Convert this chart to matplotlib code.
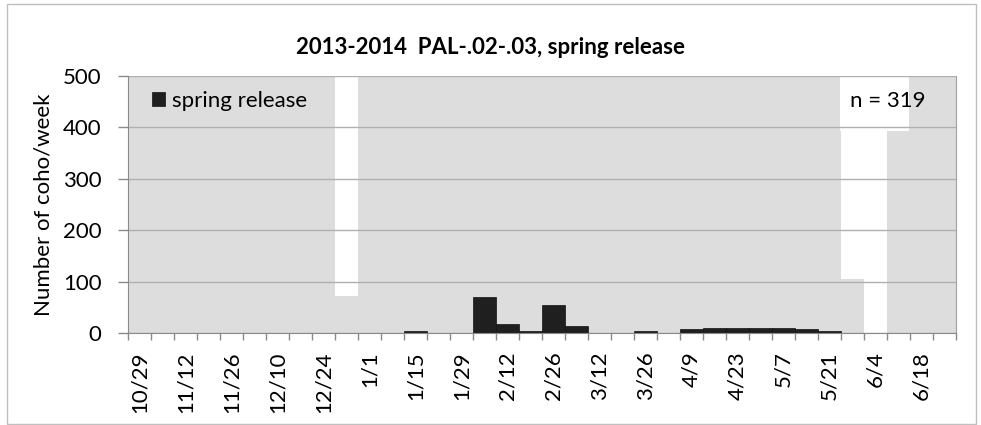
import matplotlib
matplotlib.use("Agg")
import matplotlib.pyplot as plt
from matplotlib.patches import Rectangle
import numpy as np

plt.rcParams['font.family'] = ['Lato', 'DejaVu Sans']

weeks = ["10/29", "11/5", "11/12", "11/19", "11/26", "12/3", "12/10", "12/17",
         "12/24", "12/31", "1/1", "1/8", "1/15", "1/22", "1/29", "2/5", "2/12",
         "2/19", "2/26", "3/5", "3/12", "3/19", "3/26", "4/2", "4/9", "4/16",
         "4/23", "4/30", "5/7", "5/14", "5/21", "5/28", "6/4", "6/11", "6/18", "6/25"]
spring_release = [0, 0, 0, 0, 0, 0, 0, 0, 0, 0, 0, 0, 4, 0, 0, 70, 18, 4, 54, 14,
                  0, 0, 4, 0, 8, 10, 10, 10, 10, 8, 4, 0, 0, 0, 0, 0]
sampled_bg = [500, 500, 500, 500, 500, 500, 500, 500, 500, 73, 500, 500, 500, 500,
              500, 500, 500, 500, 500, 500, 500, 500, 500, 500, 500, 500, 500, 500,
              500, 500, 500, 105, 0, 500, 500, 500]
yticks = [0, 100, 200, 300, 400, 500]
title = "2013-2014  PAL-.02-.03, spring release"
n_label = "n = 319"

FS = 16

fig = plt.figure(figsize=(9.81, 4.25), dpi=100)
ax = fig.add_axes([128/981, 1 - 333.3/425, (956-128)/981, (333.3-75.7)/425])

x = np.arange(len(weeks))
ax.bar(x, sampled_bg, width=1.0, color="#dddddd", zorder=1, linewidth=0)
ax.bar(x, spring_release, width=1.0, color="#1f1f1f", edgecolor="#111111",
       linewidth=0.5, zorder=3, label="spring release")

ax.set_xlim(-0.5, len(weeks) - 0.5)
ax.set_ylim(0, 500)
ax.set_yticks(yticks)
ax.yaxis.grid(True, color="#b0b0b0", linewidth=1.0, zorder=2)
ax.set_axisbelow(False)
for gl in ax.get_ygridlines():
    gl.set_zorder(2)

# ticks at category boundaries, labels at every other category center
ax.set_xticks(np.arange(len(weeks) + 1) - 0.5)
ax.set_xticklabels([])
ax.tick_params(axis='x', which='major', length=5, color="#8a8a8a", width=1)
ax.set_xticks(x[::2], minor=True)
ax.set_xticklabels(weeks[::2], minor=True, rotation=90, fontsize=FS, va='top', ha='center')
ax.tick_params(axis='x', which='minor', length=0, pad=13)
ax.tick_params(axis='y', length=7, color="#8a8a8a", width=1, labelsize=FS, pad=12)

ax.spines['top'].set_visible(False)
ax.spines['left'].set_color("#8a8a8a")
ax.spines['bottom'].set_color("#8a8a8a")
ax.spines['right'].set_color("#a0a0a0")
for s in ['left', 'bottom', 'right']:
    ax.spines[s].set_zorder(4)

# white text box behind n label
ax.add_patch(Rectangle(((840-128)/828, (333.3-131)/257.6), (909-840)/828, 1 - (333.3-131)/257.6,
                       transform=ax.transAxes, facecolor="white", edgecolor="none", zorder=2.5,
                       clip_on=False))
ax.text((850-128)/828, 0.902, n_label, transform=ax.transAxes, fontsize=FS,
        va='center', ha='left', zorder=5)

leg = ax.legend(loc='center left', bbox_to_anchor=(0.029, 0.902), frameon=False,
                borderaxespad=0, borderpad=0, handlelength=0.6, handleheight=0.6,
                handletextpad=0.3, fontsize=FS)

fig.text(0.5, 1 - 47/425, title, ha='center', va='center', fontsize=FS, fontweight='bold')
fig.text(44/981, 1 - 205/425, "Number of coho/week", rotation=90, ha='center', va='center',
         fontsize=FS)

fig.add_artist(Rectangle((7/981, 1/425), 969/981, 420/425, transform=fig.transFigure,
                         facecolor='none', edgecolor="#c0c0c0", linewidth=1))

fig.savefig("out.png", dpi=100)
